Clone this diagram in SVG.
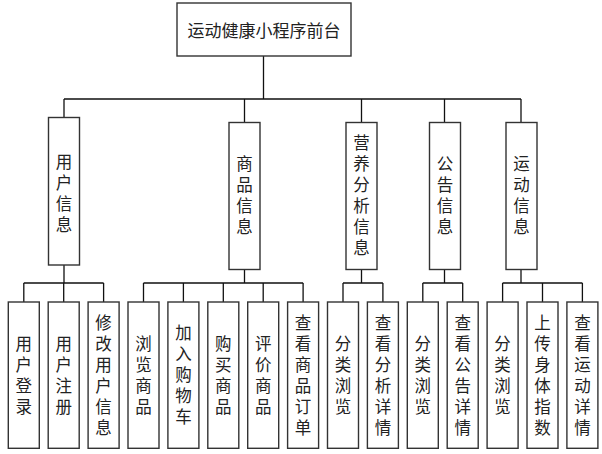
<svg xmlns="http://www.w3.org/2000/svg" width="602" height="454" viewBox="0 0 602 454">
<style>
.box{fill:#fff;stroke:#333;stroke-width:1.4}
.ln{fill:none;stroke:#111;stroke-width:1.3}
text{font-family:"Noto Sans CJK SC","Noto Sans",sans-serif;font-size:16.5px;fill:#222;text-anchor:middle}
.h{dominant-baseline:central;font-size:17px}
.v{writing-mode:vertical-rl;letter-spacing:4.5px}
</style>
<rect width="602" height="454" fill="#fff"/>
<g id="connectors">
<path class="ln" d="M263.5,56 V99 M64,99 H521 M64,99 V117.5 M244.5,99 V122.5 M361.5,99 V122.5 M444.5,99 V122.5 M521,99 V122.5"/>
<path class="ln" d="M64,265 V283 M23.8,283 H103.6 M244.5,269.5 V283 M143.5,283 H303.1 M361.5,269.5 V283 M343,283 H382.9 M444.5,269.5 V283 M422.8,283 H462.7 M521,269.5 V283 M502.6,283 H582.4"/>
<path class="ln" d="M23.8,283 V302 M63.7,283 V302 M103.6,283 V302 M143.5,283 V302 M183.4,283 V302 M223.3,283 V302 M263.2,283 V302 M303.1,283 V302 M343,283 V302 M382.9,283 V302 M422.8,283 V302 M462.7,283 V302 M502.6,283 V302 M542.5,283 V302 M582.4,283 V302"/>
</g>
<g id="root">
<rect class="box" x="177" y="3" width="174" height="53"/>
<text class="h" x="264" y="29.5">运动健康小程序前台</text>
</g>
<g id="n-user"><rect class="box" x="48.5" y="117.5" width="31" height="147.5"/><text class="v" x="64" y="195.5">用户信息</text></g>
<g id="n-goods"><rect class="box" x="229" y="122.5" width="31" height="147"/><text class="v" x="244.5" y="197.3">商品信息</text></g>
<g id="n-nutrition"><rect class="box" x="346" y="122.5" width="31" height="147"/><text class="v" x="361.5" y="197.3">营养分析信息</text></g>
<g id="n-notice"><rect class="box" x="429.5" y="122.5" width="31" height="147"/><text class="v" x="445" y="197.3">公告信息</text></g>
<g id="n-sport"><rect class="box" x="506" y="122.5" width="31" height="147"/><text class="v" x="521.5" y="197.3">运动信息</text></g>
<g id="l1"><rect class="box" x="8.3" y="302" width="31" height="146.3"/><text class="v" x="23.8" y="377.3">用户登录</text></g>
<g id="l2"><rect class="box" x="48.2" y="302" width="31" height="146.3"/><text class="v" x="63.7" y="377.3">用户注册</text></g>
<g id="l3"><rect class="box" x="88.1" y="302" width="31" height="146.3"/><text class="v" x="103.6" y="377.3">修改用户信息</text></g>
<g id="l4"><rect class="box" x="128" y="302" width="31" height="146.3"/><text class="v" x="143.5" y="377.3">浏览商品</text></g>
<g id="l5"><rect class="box" x="167.9" y="302" width="31" height="146.3"/><text class="v" x="183.4" y="377.3">加入购物车</text></g>
<g id="l6"><rect class="box" x="207.8" y="302" width="31" height="146.3"/><text class="v" x="223.3" y="377.3">购买商品</text></g>
<g id="l7"><rect class="box" x="247.7" y="302" width="31" height="146.3"/><text class="v" x="263.2" y="377.3">评价商品</text></g>
<g id="l8"><rect class="box" x="287.6" y="302" width="31" height="146.3"/><text class="v" x="303.1" y="377.3">查看商品订单</text></g>
<g id="l9"><rect class="box" x="327.5" y="302" width="31" height="146.3"/><text class="v" x="343" y="377.3">分类浏览</text></g>
<g id="l10"><rect class="box" x="367.4" y="302" width="31" height="146.3"/><text class="v" x="382.9" y="377.3">查看分析详情</text></g>
<g id="l11"><rect class="box" x="407.3" y="302" width="31" height="146.3"/><text class="v" x="422.8" y="377.3">分类浏览</text></g>
<g id="l12"><rect class="box" x="447.2" y="302" width="31" height="146.3"/><text class="v" x="462.7" y="377.3">查看公告详情</text></g>
<g id="l13"><rect class="box" x="487.1" y="302" width="31" height="146.3"/><text class="v" x="502.6" y="377.3">分类浏览</text></g>
<g id="l14"><rect class="box" x="527" y="302" width="31" height="146.3"/><text class="v" x="542.5" y="377.3">上传身体指数</text></g>
<g id="l15"><rect class="box" x="566.9" y="302" width="31" height="146.3"/><text class="v" x="582.4" y="377.3">查看运动详情</text></g>
</svg>
